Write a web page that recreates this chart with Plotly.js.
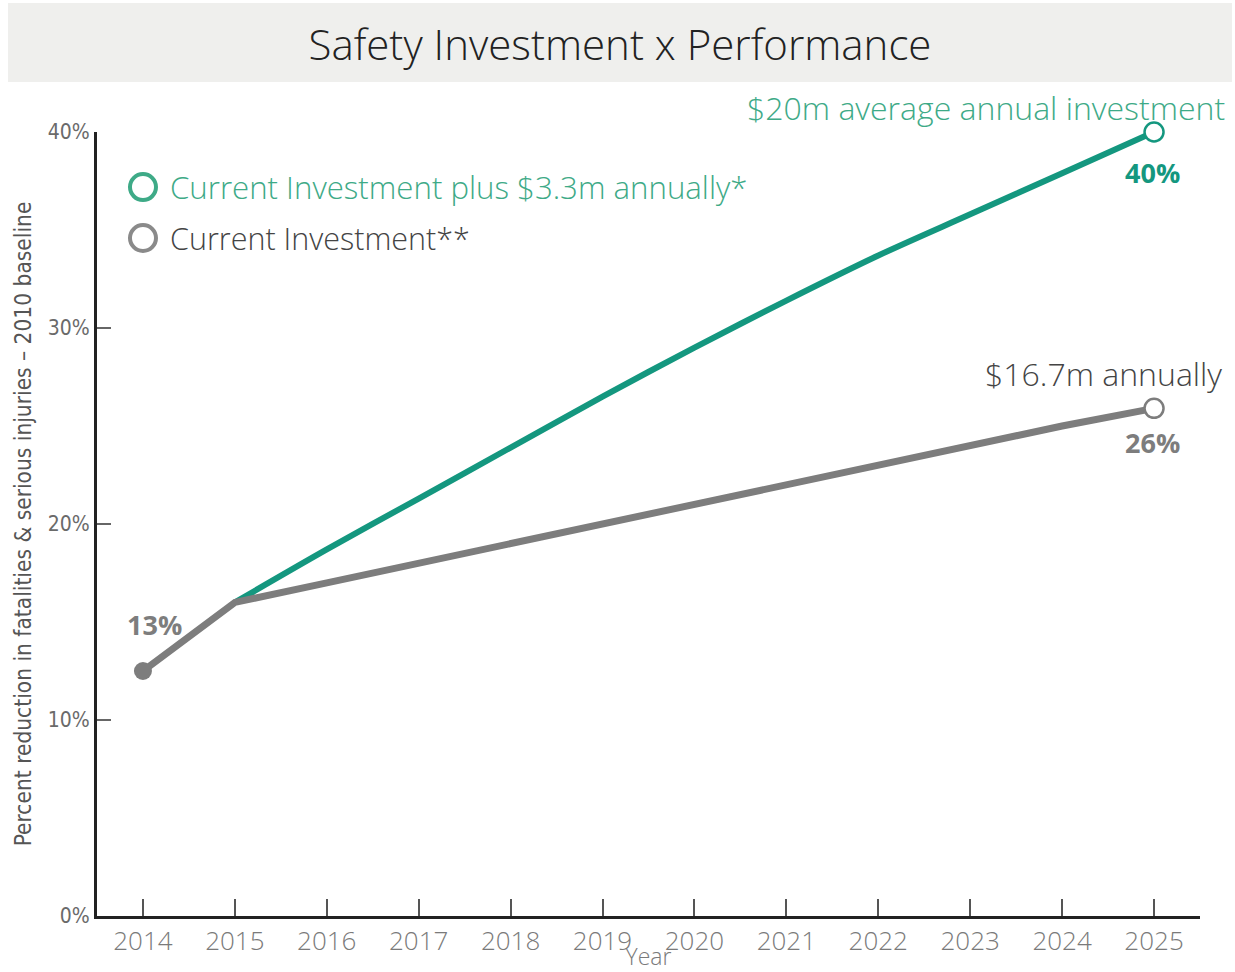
<!DOCTYPE html>
<html>
<head>
<meta charset="utf-8">
<script src="https://cdn.plot.ly/plotly-3.0.1.min.js"></script>
<style>html,body{margin:0;padding:0;background:#fff;}#chart{width:1235px;height:972px;}</style>
</head>
<body>
<div id="chart"></div>
<script>
// ---- data ----
const years = [2014, 2015, 2016, 2017, 2018, 2019, 2020, 2021, 2022, 2023, 2024, 2025];
const currentInvestment = [12.5, 16, 17, 18, 19, 20, 21, 22, 23, 24, 25, 25.9];
const plusYears = [2015, 2016, 2017, 2018, 2019, 2020, 2021, 2022, 2023, 2024, 2025];
const plusInvestment = [16, 18.7, 21.3, 23.9, 26.5, 29.0, 31.4, 33.7, 35.8, 37.9, 40];
const startLabel = '13%';
const plusEndLabel = '40%';
const currentEndLabel = '26%';
const plusEndNote = '$20m average annual investment';
const currentEndNote = '$16.7m annually';
const seriesNames = ['Current Investment plus $3.3m annually*', 'Current Investment**'];
const yTickVals = [0, 10, 20, 30, 40];
const yTickText = ['0%', '10%', '20%', '30%', '40%'];
const chartTitle = 'Safety Investment x Performance';
const yTitle = 'Percent reduction in fatalities &amp; serious injuries – 2010 baseline';
const xTitle = 'Year';

// ---- styles ----
const GREEN = '#14977f';
const GREEN_TEXT = '#3eaa87';
const GRAY = '#7d7d7d';
const NARROW = 'Liberation Sans Narrow, DejaVu Sans Condensed, Roboto Condensed, Arial Narrow, Open Sans, sans-serif';
const OPEN = 'Open Sans, Noto Sans, sans-serif';

const last = a => a[a.length - 1];

const traces = [
  {
    x: plusYears, y: plusInvestment, type: 'scatter', mode: 'lines',
    name: seriesNames[0],
    line: {color: GREEN, width: 6, shape: 'spline', smoothing: 0.8},
    showlegend: false, hoverinfo: 'x+y'
  },
  {
    x: years, y: currentInvestment, type: 'scatter', mode: 'lines',
    name: seriesNames[1],
    line: {color: GRAY, width: 7},
    showlegend: false, hoverinfo: 'x+y'
  },
  {
    x: [years[0]], y: [currentInvestment[0]], type: 'scatter', mode: 'markers',
    marker: {color: GRAY, size: 18, line: {width: 0}},
    showlegend: false, cliponaxis: false
  },
  {
    x: [last(plusYears)], y: [last(plusInvestment)], type: 'scatter', mode: 'markers',
    marker: {color: '#ffffff', size: 19, line: {color: GREEN, width: 2.5}},
    showlegend: false, cliponaxis: false
  },
  {
    x: [last(years)], y: [last(currentInvestment)], type: 'scatter', mode: 'markers',
    marker: {color: '#ffffff', size: 19, line: {color: GRAY, width: 2.5}},
    showlegend: false, cliponaxis: false
  }
];

const annotations = [
  // legend texts
  {xref: 'paper', yref: 'paper', x: 0.0644, y: 0.9298, xanchor: 'left', yanchor: 'middle',
   text: seriesNames[0], showarrow: false,
   font: {family: OPEN, size: 31.2, color: GREEN_TEXT, weight: 300}},
  {xref: 'paper', yref: 'paper', x: 0.0644, y: 0.8648, xanchor: 'left', yanchor: 'middle',
   text: seriesNames[1], showarrow: false,
   font: {family: OPEN, size: 30.5, color: '#444444', weight: 300}},
  // data labels
  {x: years[0], y: currentInvestment[0], text: '<b>' + startLabel + '</b>', showarrow: false,
   xshift: 12, yshift: 47, font: {family: OPEN, size: 27, color: GRAY}},
  {x: last(plusYears), y: last(plusInvestment), text: '<b>' + plusEndLabel + '</b>', showarrow: false,
   xshift: -2, yshift: -40, font: {family: OPEN, size: 27, color: GREEN}},
  {x: last(years), y: last(currentInvestment), text: '<b>' + currentEndLabel + '</b>', showarrow: false,
   xshift: -2, yshift: -34, font: {family: OPEN, size: 27, color: GRAY}},
  {x: last(plusYears), y: last(plusInvestment), text: plusEndNote, showarrow: false,
   xanchor: 'right', xshift: 73, yshift: 25, font: {family: OPEN, size: 32, color: GREEN_TEXT, weight: 300}},
  {x: last(years), y: last(currentInvestment), text: currentEndNote, showarrow: false,
   xanchor: 'right', xshift: 70, yshift: 35, font: {family: OPEN, size: 32, color: '#444444', weight: 300}}
];

const shapes = [
  // title band
  {type: 'rect', xref: 'paper', yref: 'paper', x0: -0.0807, x1: 1.029, y0: 1.0638, y1: 1.1645,
   fillcolor: '#efefed', line: {width: 0}, layer: 'below'},
  // legend symbols
  {type: 'circle', xref: 'paper', yref: 'paper', xsizemode: 'pixel', ysizemode: 'pixel',
   xanchor: 0.0417, yanchor: 0.9298, x0: -13, x1: 13, y0: -13, y1: 13,
   line: {color: GREEN_TEXT, width: 4}, fillcolor: 'rgba(0,0,0,0)'},
  {type: 'circle', xref: 'paper', yref: 'paper', xsizemode: 'pixel', ysizemode: 'pixel',
   xanchor: 0.0417, yanchor: 0.8648, x0: -13, x1: 13, y0: -13, y1: 13,
   line: {color: '#8a8a8a', width: 4}, fillcolor: 'rgba(0,0,0,0)'}
];

const layout = {
  width: 1235, height: 972,
  margin: {l: 97, r: 35, t: 132, b: 56},
  paper_bgcolor: '#ffffff', plot_bgcolor: '#ffffff',
  showlegend: false,
  title: {text: chartTitle, x: 0.502, xanchor: 'center', xref: 'container',
          y: 0.9537, yanchor: 'middle', yref: 'container',
          font: {family: OPEN, size: 42, color: '#222222', weight: 300}},
  xaxis: {
    range: [2013.5, 2025.5], tickvals: years, ticktext: years.map(String),
    showgrid: false, zeroline: false, showline: true, linecolor: '#222222', linewidth: 3,
    ticks: 'inside', ticklen: 17, tickwidth: 2, tickcolor: '#555555',
    tickfont: {family: OPEN, size: 26, color: '#7a7a7a', weight: 300},
    title: {text: xTitle, standoff: 5, font: {family: OPEN, size: 23, color: '#7a7a7a', weight: 300}},
    automargin: false, fixedrange: true
  },
  yaxis: {
    range: [0, 40], tickvals: yTickVals, ticktext: yTickText,
    showgrid: false, zeroline: false, showline: true, linecolor: '#222222', linewidth: 3,
    ticks: 'inside', ticklen: 14, tickwidth: 1.5, tickcolor: '#666666',
    tickfont: {family: NARROW, size: 21, color: '#6a6a6a', weight: 300},
    title: {text: yTitle, standoff: 10, font: {family: NARROW, size: 22.5, color: '#555555', weight: 300}},
    automargin: false, fixedrange: true
  },
  annotations: annotations,
  shapes: shapes
};

Plotly.newPlot('chart', traces, layout, {displayModeBar: false, staticPlot: true});
</script>
</body>
</html>
